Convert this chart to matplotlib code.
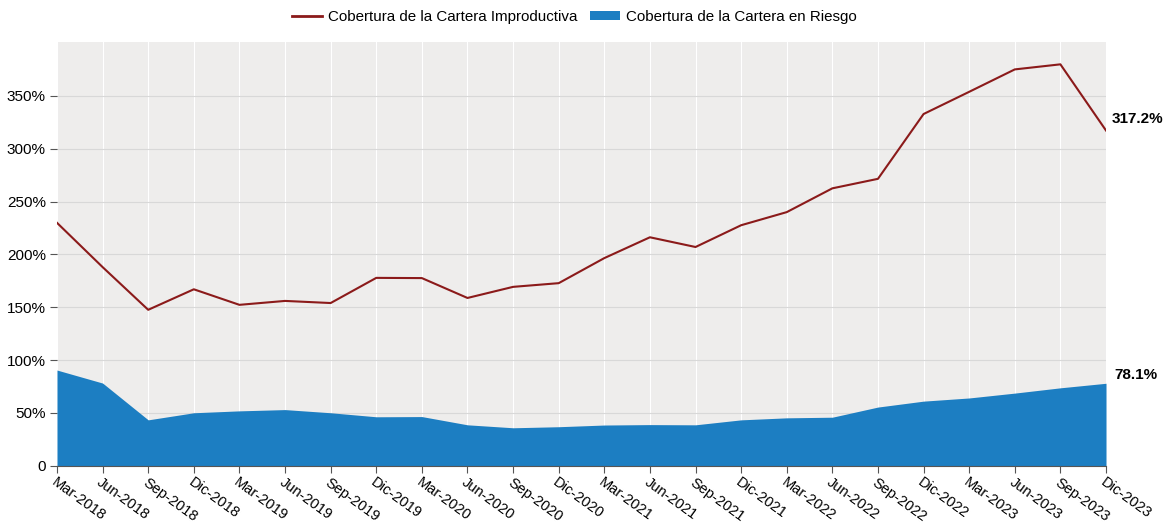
import matplotlib.pyplot as plt
from matplotlib.ticker import FuncFormatter
from matplotlib.patches import Patch
from matplotlib.lines import Line2D

plt.rcParams['font.family'] = ['Liberation Sans', 'DejaVu Sans']

periods = ["Mar-2018", "Jun-2018", "Sep-2018", "Dic-2018",
           "Mar-2019", "Jun-2019", "Sep-2019", "Dic-2019",
           "Mar-2020", "Jun-2020", "Sep-2020", "Dic-2020",
           "Mar-2021", "Jun-2021", "Sep-2021", "Dic-2021",
           "Mar-2022", "Jun-2022", "Sep-2022", "Dic-2022",
           "Mar-2023", "Jun-2023", "Sep-2023", "Dic-2023"]
improductiva = [229.9, 188.0, 147.6, 167.0, 152.3, 156.0, 154.0, 177.8,
                177.6, 158.8, 169.3, 172.8, 196.5, 216.2, 207.0, 227.6,
                240.0, 262.5, 271.5, 332.8, 353.8, 375.0, 379.8, 317.2]
riesgo = [90.6, 78.3, 43.5, 50.2, 52.0, 53.2, 50.2, 46.4,
          46.6, 38.8, 36.0, 37.0, 38.6, 39.0, 38.8, 43.5,
          45.4, 46.0, 55.6, 61.2, 64.2, 68.8, 73.8, 78.1]

red = '#8b1a1a'
blue = '#1c7ec2'

fig = plt.figure(figsize=(11.63, 5.24), dpi=100)
ax = fig.add_axes([0.049, 0.111, 0.902, 0.809])
ax.set_facecolor('#eeedec')

x = list(range(len(periods)))
ax.fill_between(x, 0, riesgo, color=blue, lw=0, zorder=2)
ax.plot(x, improductiva, color=red, lw=1.5, zorder=3)

ax.set_xlim(0, len(periods) - 1)
ax.set_ylim(0, 401)
ax.set_yticks(range(0, 400, 50))
ax.yaxis.set_major_formatter(FuncFormatter(lambda v, p: '0' if v == 0 else f'{v:.0f}%'))
ax.set_xticks(x)
ax.set_xticklabels(periods, rotation=-36, ha='left', va='top',
                   rotation_mode='anchor', fontsize=10.5)
ax.tick_params(axis='y', labelsize=11, length=5, color='#555555', pad=3)
ax.tick_params(axis='x', length=5, color='#555555', pad=2)

ax.grid(axis='y', color='#d8d8d8', lw=0.8, zorder=1)
ax.grid(axis='x', color='#ffffff', lw=0.8, zorder=1)
ax.set_axisbelow(True)
for s in ['top', 'right', 'left']:
    ax.spines[s].set_visible(False)
ax.spines['bottom'].set_color('#555555')

ax.text(len(periods) - 1 + 0.13, improductiva[-1] + 4, f'{improductiva[-1]:.1f}%',
        fontsize=11, fontweight='bold', va='bottom', clip_on=False)
ax.text(len(periods) - 1 + 0.18, riesgo[-1] + 1, f'{riesgo[-1]:.1f}%',
        fontsize=11, fontweight='bold', va='bottom', clip_on=False)

handles = [Line2D([0], [0], color=red, lw=2),
           Patch(facecolor=blue, edgecolor='none')]
fig.legend(handles, ['Cobertura de la Cartera Improductiva', 'Cobertura de la Cartera en Riesgo'],
           loc='upper center', bbox_to_anchor=(0.494, 1.007), ncol=2, frameon=False,
           fontsize=10.9, handlelength=2.0, handleheight=0.5, columnspacing=0.8, handletextpad=0.4)

fig.savefig('out.png', dpi=100)
